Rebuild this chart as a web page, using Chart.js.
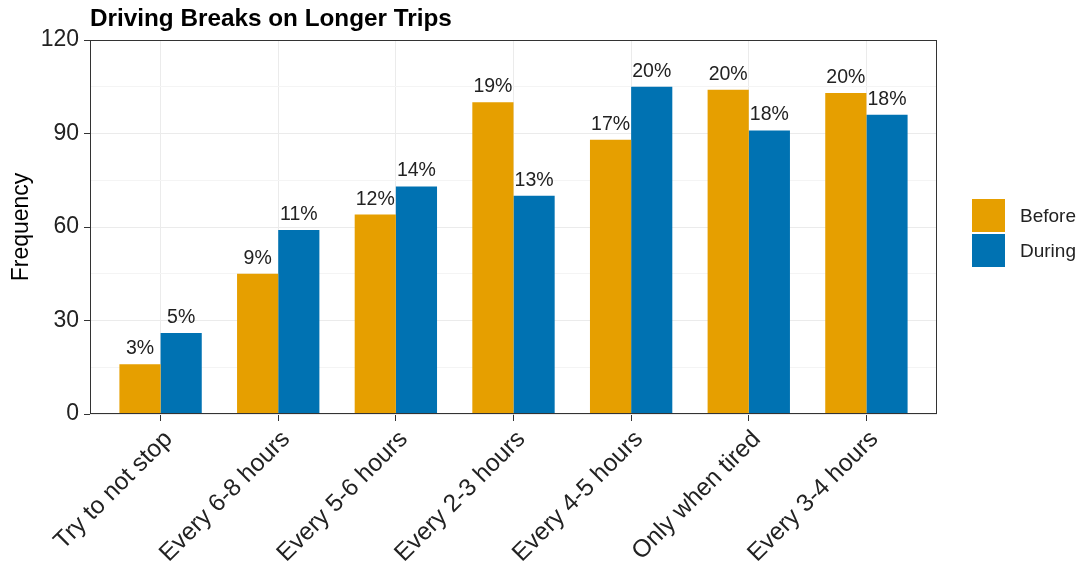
<!DOCTYPE html>
<html>
<head>
<meta charset="utf-8">
<script src="https://cdn.jsdelivr.net/npm/chart.js@4/dist/chart.umd.min.js"></script>
<style>
  html, body { margin: 0; padding: 0; background: #fff; }
  #wrap { width: 1083px; height: 567px; position: relative; }
</style>
</head>
<body>
<div id="wrap"><canvas id="chart"></canvas></div>
<script>
// Data
const categories = ['Try to not stop', 'Every 6-8 hours', 'Every 5-6 hours', 'Every 2-3 hours',
  'Every 4-5 hours', 'Only when tired', 'Every 3-4 hours'];
const beforeCounts = [16, 45, 64, 100, 88, 104, 103];
const duringCounts = [26, 59, 73, 70, 105, 91, 96];
const beforePct = ['3%', '9%', '12%', '19%', '17%', '20%', '20%'];
const duringPct = ['5%', '11%', '14%', '13%', '20%', '18%', '18%'];
const yTicks = [0, 30, 60, 90, 120];

const FONT = '"Liberation Sans", Arial, sans-serif';

// discrete axis positions, with ggplot-like 0.6 expansion on both sides
const toPoints = values => values.map((v, i) => ({ x: i, y: v }));

// title, panel border, value labels and legend
const decorations = {
  id: 'decorations',
  afterDraw(chart) {
    const { ctx, chartArea } = chart;
    ctx.save();
    ctx.strokeStyle = '#333';
    ctx.lineWidth = 1;
    ctx.strokeRect(chartArea.left + 0.5, chartArea.top + 0.5,
      chartArea.right - chartArea.left - 1, chartArea.bottom - chartArea.top - 1);

    ctx.fillStyle = '#000';
    ctx.font = 'bold 24.3px ' + FONT;
    ctx.textAlign = 'left';
    ctx.textBaseline = 'alphabetic';
    ctx.fillText('Driving Breaks on Longer Trips', chartArea.left, 26);

    // value labels
    ctx.font = '19.5px ' + FONT;
    ctx.fillStyle = '#222';
    ctx.textAlign = 'center';
    const labels = [beforePct, duringPct];
    chart.data.datasets.forEach((ds, i) => {
      chart.getDatasetMeta(i).data.forEach((bar, j) => {
        ctx.fillText(labels[i][j], bar.x, bar.y - 10);
      });
    });

    // legend
    const lx = chartArea.right + 35;
    let ly = chartArea.top + 159;
    ctx.font = '19px ' + FONT;
    ctx.textAlign = 'left';
    ctx.textBaseline = 'middle';
    chart.data.datasets.forEach(ds => {
      ctx.fillStyle = ds.backgroundColor;
      ctx.fillRect(lx, ly, 33, 33);
      ctx.fillStyle = '#222';
      ctx.fillText(ds.label, lx + 48, ly + 18);
      ly += 35;
    });
    ctx.restore();
  }
};

const ctx = document.getElementById('chart').getContext('2d');
new Chart(ctx, {
  type: 'bar',
  data: {
    datasets: [{
      label: 'Before',
      data: toPoints(beforeCounts),
      backgroundColor: '#E69F00',
      categoryPercentage: 0.7,
      barPercentage: 1.0
    }, {
      label: 'During',
      data: toPoints(duringCounts),
      backgroundColor: '#0072B2',
      categoryPercentage: 0.7,
      barPercentage: 1.0
    }]
  },
  options: {
    responsive: true,
    maintainAspectRatio: false,
    animation: false,
    layout: {
      padding: { top: 40, right: 146, left: 0, bottom: 0 }
    },
    scales: {
      x: {
        type: 'linear',
        min: -0.6,
        max: categories.length - 0.4,
        offset: false,
        afterFit: scale => { scale.height = 153; },
        afterBuildTicks: scale => { scale.ticks = categories.map((c, i) => ({ value: i })); },
        grid: {
          offset: false,
          color: '#ebebeb',
          tickLength: 7,
          tickColor: '#333'
        },
        border: { display: false },
        ticks: {
          maxRotation: 45,
          minRotation: 45,
          autoSkip: false,
          color: '#222',
          font: { family: FONT, size: 24.5 },
          padding: 4,
          labelOffset: 8,
          callback: v => categories[v]
        }
      },
      y: {
        min: 0,
        max: 120,
        afterFit: scale => { scale.width = 90; },
        grid: {
          color: ctx => (ctx.tick && yTicks.includes(ctx.tick.value)) ? '#ebebeb' : '#f4f4f4',
          tickLength: 6,
          tickColor: ctx => (ctx.tick && yTicks.includes(ctx.tick.value)) ? '#333' : 'rgba(0,0,0,0)'
        },
        border: { display: false },
        ticks: {
          stepSize: 15,
          color: '#222',
          font: { family: FONT, size: 23 },
          padding: 5,
          callback: v => yTicks.includes(v) ? v : ''
        },
        title: {
          display: true,
          text: 'Frequency',
          color: '#000',
          font: { family: FONT, size: 23 },
          padding: { top: 8, bottom: 0 }
        }
      }
    },
    plugins: {
      legend: { display: false },
      tooltip: { enabled: false }
    }
  },
  plugins: [decorations]
});
</script>
</body>
</html>
